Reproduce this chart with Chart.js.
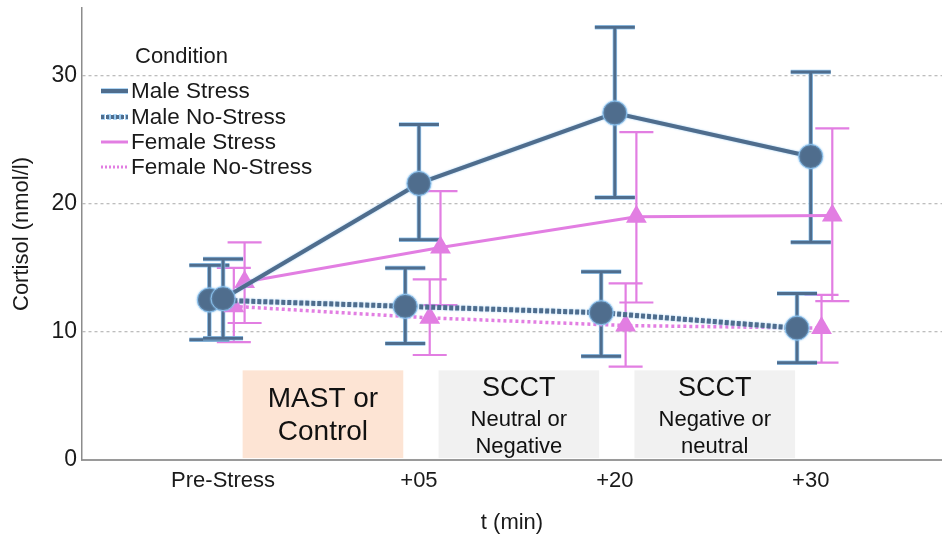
<!DOCTYPE html>
<html><head><meta charset="utf-8">
<script src="https://cdn.jsdelivr.net/npm/chart.js@4/dist/chart.umd.min.js"></script>
<style>html,body{margin:0;padding:0;background:#fff}canvas{display:block}</style>
</head><body>
<canvas id="c" width="942" height="536"></canvas>
<script>
// ---- data ----
const categories = ['Pre-Stress', '+05', '+20', '+30'];
const seriesNames = ['Male Stress', 'Male No-Stress', 'Female Stress', 'Female No-Stress'];
const maleStressMean = [12.6, 21.6, 27.1, 23.7];
const maleStressLow = [9.5, 17.2, 20.5, 17.0];
const maleStressHigh = [15.7, 26.2, 33.8, 30.3];
const maleNoStressMean = [12.5, 12.0, 11.5, 10.3];
const maleNoStressLow = [9.4, 9.1, 8.1, 7.6];
const maleNoStressHigh = [15.2, 15.0, 14.7, 13.0];
const femaleStressMean = [13.9, 16.6, 19.0, 19.1];
const femaleStressLow = [10.7, 12.1, 12.3, 12.4];
const femaleStressHigh = [17.0, 21.0, 25.6, 25.9];
const femaleNoStressMean = [12.0, 11.1, 10.5, 10.3];
const femaleNoStressLow = [9.2, 8.2, 7.3, 7.6];
const femaleNoStressHigh = [15.0, 14.1, 13.8, 12.9];
const yTicks = [0, 10, 20, 30];
const phaseLabels = [['MAST or', 'Control'], ['SCCT', 'Neutral or', 'Negative'], ['SCCT', 'Negative or', 'neutral']];
const legendTitle = 'Condition';
const xTitle = 't (min)';
const yTitle = 'Cortisol (nmol/l)';

// ---- styles / layout ----
const MALE = '#4f6d8d', MALE_HALO = 'rgba(140,195,240,0.9)', FEMALE = '#e27ee2';
const FONT = "'Liberation Sans', Arial, Helvetica, sans-serif";
const dodge = [0, -0.07, 0.11, 0.055];
const phaseBoxes = [
  {x0: 0.10, x1: 0.92, fill: '#fde4d4', sizes: [28, 28], offs: [29, 62]},
  {x0: 1.10, x1: 1.92, fill: '#f1f1f1', sizes: [27, 22, 22], offs: [18, 50, 77]},
  {x0: 2.10, x1: 2.92, fill: '#f1f1f1', sizes: [27, 22, 22], offs: [18, 50, 77]}
];
const boxYLow = 0.15, boxYHigh = 7.0;

function pts(mean, k) { return mean.map((v, i) => ({x: i + dodge[k], y: v})); }

const means = [maleStressMean, maleNoStressMean, femaleStressMean, femaleNoStressMean];
const lows = [maleStressLow, maleNoStressLow, femaleStressLow, femaleNoStressLow];
const highs = [maleStressHigh, maleNoStressHigh, femaleStressHigh, femaleNoStressHigh];

const datasets = [
  {label: seriesNames[0], data: pts(maleStressMean, 0), borderColor: MALE, borderWidth: 4,
   pointStyle: 'circle', pointRadius: 12, pointHoverRadius: 12, pointBackgroundColor: MALE,
   pointBorderColor: MALE_HALO, pointBorderWidth: 1, halo: true, capHalf: 20, barW: 3, barColor: MALE},
  {label: seriesNames[1], data: pts(maleNoStressMean, 1), borderColor: MALE, borderWidth: 5, borderDash: [4, 2],
   pointStyle: 'circle', pointRadius: 12, pointHoverRadius: 12, pointBackgroundColor: MALE,
   pointBorderColor: MALE_HALO, pointBorderWidth: 1, halo: true, capHalf: 20, barW: 3, barColor: MALE},
  {label: seriesNames[2], data: pts(femaleStressMean, 2), borderColor: FEMALE, borderWidth: 3,
   pointStyle: 'triangle', pointRadius: 12, pointHoverRadius: 12, pointBackgroundColor: FEMALE,
   pointBorderColor: FEMALE, pointBorderWidth: 0, capHalf: 17, barW: 2.2, barColor: FEMALE},
  {label: seriesNames[3], data: pts(femaleNoStressMean, 3), borderColor: FEMALE, borderWidth: 3.5, borderDash: [3, 3],
   pointStyle: 'triangle', pointRadius: 12, pointHoverRadius: 12, pointBackgroundColor: FEMALE,
   pointBorderColor: FEMALE, pointBorderWidth: 0, capHalf: 17, barW: 2.2, barColor: FEMALE}
];
datasets.forEach(d => { d.tension = 0; d.fill = false; });

const phasePlugin = {
  id: 'phases',
  beforeDatasetsDraw(chart) {
    const {ctx, scales: {x, y}} = chart;
    ctx.save();
    phaseBoxes.forEach((b, k) => {
      const px0 = x.getPixelForValue(b.x0), px1 = x.getPixelForValue(b.x1);
      const py0 = y.getPixelForValue(boxYHigh), py1 = y.getPixelForValue(boxYLow);
      ctx.fillStyle = b.fill;
      ctx.fillRect(px0, py0, px1 - px0, py1 - py0);
      ctx.fillStyle = '#111';
      ctx.textAlign = 'center';
      ctx.textBaseline = 'middle';
      phaseLabels[k].forEach((t, j) => {
        ctx.font = b.sizes[j] + 'px ' + FONT;
        ctx.fillText(t, (px0 + px1) / 2, py0 + b.offs[j]);
      });
    });
    ctx.restore();
  }
};

const errorPlugin = {
  id: 'errbars',
  beforeDatasetsDraw(chart) {
    const {ctx, scales: {x, y}} = chart;
    ctx.save();
    [3, 2, 1, 0].forEach(k => {
      const d = chart.data.datasets[k];
      means[k].forEach((m, i) => {
        const px = x.getPixelForValue(i + dodge[k]);
        const pl = y.getPixelForValue(lows[k][i]), ph = y.getPixelForValue(highs[k][i]);
        const path = () => {
          ctx.beginPath();
          ctx.moveTo(px, pl); ctx.lineTo(px, ph);
          ctx.moveTo(px - d.capHalf, pl); ctx.lineTo(px + d.capHalf, pl);
          ctx.moveTo(px - d.capHalf, ph); ctx.lineTo(px + d.capHalf, ph);
        };
        if (d.halo) { path(); ctx.strokeStyle = MALE_HALO; ctx.lineWidth = d.barW + 1.5; ctx.stroke(); }
        path(); ctx.strokeStyle = d.barColor; ctx.lineWidth = d.barW; ctx.stroke();
      });
    });
    ctx.restore();
  },
  beforeDatasetDraw(chart, args) {
    const ds = chart.data.datasets[args.index];
    chart.ctx.save();
    if (ds.halo) { chart.ctx.shadowColor = MALE_HALO; chart.ctx.shadowBlur = 2; }
  },
  afterDatasetDraw(chart) { chart.ctx.restore(); }
};

const legendPlugin = {
  id: 'customLegend',
  afterDraw(chart) {
    const ctx = chart.ctx;
    ctx.save();
    ctx.fillStyle = '#1a1a1a';
    ctx.textBaseline = 'middle';
    ctx.textAlign = 'left';
    ctx.font = '22px ' + FONT;
    ctx.fillText(legendTitle, 135, 57);
    const rowsY = [91, 117, 142, 167];
    chart.data.datasets.forEach((d, k) => {
      const yy = rowsY[k];
      ctx.beginPath();
      ctx.moveTo(101, yy); ctx.lineTo(128, yy);
      if (d.halo) {
        ctx.save(); ctx.strokeStyle = MALE_HALO; ctx.lineWidth = 5.5; ctx.setLineDash(d.borderDash || []); ctx.stroke(); ctx.restore();
      }
      ctx.strokeStyle = d.borderColor;
      ctx.lineWidth = d.halo ? 4 : 3;
      ctx.setLineDash(d.borderDash ? (d.halo ? [3, 2] : [2, 2]) : []);
      ctx.stroke();
      ctx.setLineDash([]);
      ctx.fillStyle = '#1a1a1a';
      ctx.font = '22.5px ' + FONT;
      ctx.fillText(d.label, 131, yy + 1);
    });
    ctx.restore();
  }
};

new Chart(document.getElementById('c'), {
  type: 'line',
  data: {datasets},
  plugins: [phasePlugin, errorPlugin, legendPlugin],
  options: {
    responsive: false,
    animation: false,
    events: [],
    layout: {autoPadding: false, padding: {top: 8, right: 0, left: 0, bottom: 0}},
    plugins: {legend: {display: false}, tooltip: {enabled: false}},
    scales: {
      x: {
        type: 'linear', min: -0.72, max: 3.67,
        grid: {display: false},
        border: {display: true, color: '#9a9a9a', width: 2},
        ticks: {
          stepSize: 1, includeBounds: false, maxRotation: 0, autoSkip: false, padding: 0,
          color: '#1a1a1a', font: {size: 22, family: FONT},
          callback: v => categories[v] !== undefined ? categories[v] : ''
        },
        title: {display: true, text: xTitle, color: '#1a1a1a', font: {size: 22, family: FONT}, padding: {top: 0, bottom: 0}},
        afterFit: s => { s.height = 76; s.paddingLeft = 0; s.paddingRight = 0; }
      },
      y: {
        min: 0, max: 35.3,
        afterBuildTicks: s => { s.ticks = yTicks.map(v => ({value: v})); },
        grid: {
          drawTicks: false, lineWidth: 1.3,
          color: c => (c.tick && c.tick.value === 0) ? 'rgba(0,0,0,0)' : '#bdbdbd'
        },
        border: {display: true, color: '#8c8c8c', width: 1.5, dash: [3, 3]},
        ticks: {padding: 5, color: '#1a1a1a', font: {size: 23, family: FONT}},
        title: {display: true, text: yTitle, color: '#1a1a1a', font: {size: 22, family: FONT}, padding: {top: 9, bottom: 0}},
        afterFit: s => { s.width = 82; s.paddingTop = 0; s.paddingBottom = 0; }
      }
    }
  }
});
</script>
</body></html>
